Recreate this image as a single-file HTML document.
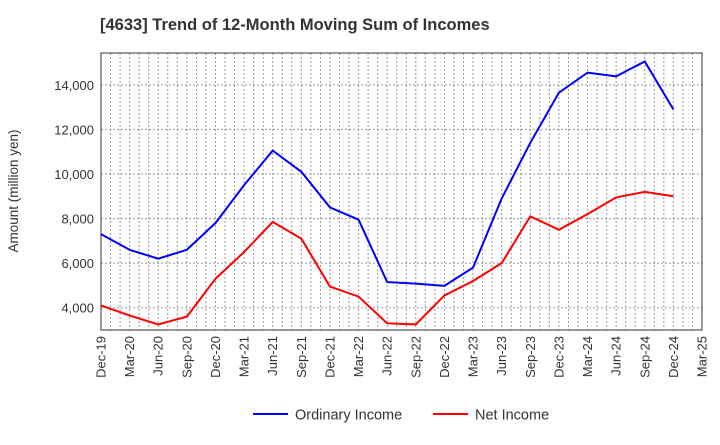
<!DOCTYPE html>
<html><head><meta charset="utf-8"><style>
body{margin:0;background:#fff;font-family:"Liberation Sans",sans-serif;}
</style></head><body>
<svg id="c" width="720" height="440" xmlns="http://www.w3.org/2000/svg">
<text x="100" y="30" font-size="16.5" font-weight="bold" fill="#333">[4633]  Trend of 12-Month Moving Sum of Incomes</text>
<text transform="translate(18,191) rotate(-90)" text-anchor="middle" font-size="13.5" fill="#333">Amount (million yen)</text>
<g id="grid"></g><g id="axes"></g><g id="series"></g>
<g>
<line x1="253" y1="414" x2="288" y2="414" stroke="#0000ff" stroke-width="2"/>
<text x="295" y="419.5" font-size="14.5" fill="#333">Ordinary Income</text>
<line x1="433" y1="414" x2="468" y2="414" stroke="#ff0000" stroke-width="2"/>
<text x="475" y="419.5" font-size="14.5" fill="#333">Net Income</text>
</g>
</svg>
<script>
const categories=["Dec-19","Mar-20","Jun-20","Sep-20","Dec-20","Mar-21","Jun-21","Sep-21","Dec-21","Mar-22","Jun-22","Sep-22","Dec-22","Mar-23","Jun-23","Sep-23","Dec-23","Mar-24","Jun-24","Sep-24","Dec-24","Mar-25"];
const ordinaryIncome=[7300,6600,6200,6600,7800,9500,11050,10100,8500,7950,5150,5080,4980,5800,8900,11400,13650,14550,14380,15050,12900];
const netIncome=[4100,3650,3250,3600,5300,6500,7850,7100,4950,4500,3300,3250,4550,5200,6000,8100,7500,8200,8950,9200,9000];
const yTicks=[4000,6000,8000,10000,12000,14000];
const L=101,R=702,T=53,B=330,yMin=3000,yMax=15430;
const NS="http://www.w3.org/2000/svg";
const xs=i=>L+(R-L)*i/(categories.length-1);
const ys=v=>B-(v-yMin)/(yMax-yMin)*(B-T);
function mk(t,a,p){const e=document.createElementNS(NS,t);for(const k in a)e.setAttribute(k,a[k]);p.appendChild(e);return e;}
const g=document.getElementById('grid'),ax=document.getElementById('axes'),s=document.getElementById('series');
const months=(categories.length-1)*3;
for(let m=1;m<months;m++){const x=L+(R-L)*m/months;const l=mk('line',{x1:x,x2:x,y1:T,y2:B,stroke:'#999','stroke-dasharray':'2,2','stroke-width':1},g);

}
yTicks.forEach(v=>{const y=ys(v);const l=mk('line',{x1:L,x2:R,y1:y,y2:y,stroke:'#999','stroke-dasharray':'2,2','stroke-width':1},g);


const t=mk('text',{x:L-7,y:y+5,'text-anchor':'end','font-size':13,fill:'#333'},ax);t.textContent=v.toLocaleString('en-US');

});
const fr=mk('rect',{x:L,y:T,width:R-L,height:B-T,fill:'none',stroke:'#333','stroke-width':1},ax);


categories.forEach((c,i)=>{const x=xs(i);const t=mk('text',{transform:`translate(${x+4.5},${B+6}) rotate(-90)`,'text-anchor':'end','font-size':13,fill:'#333'},ax);t.textContent=c;

});
function line(d,col,name){const p=mk('polyline',{points:d.map((v,i)=>xs(i)+','+ys(v)).join(' '),fill:'none',stroke:col,'stroke-width':2},s);

}
line(ordinaryIncome,'#0000ff','ordinary-income-line');
line(netIncome,'#ff0000','net-income-line');
</script>
</body></html>
